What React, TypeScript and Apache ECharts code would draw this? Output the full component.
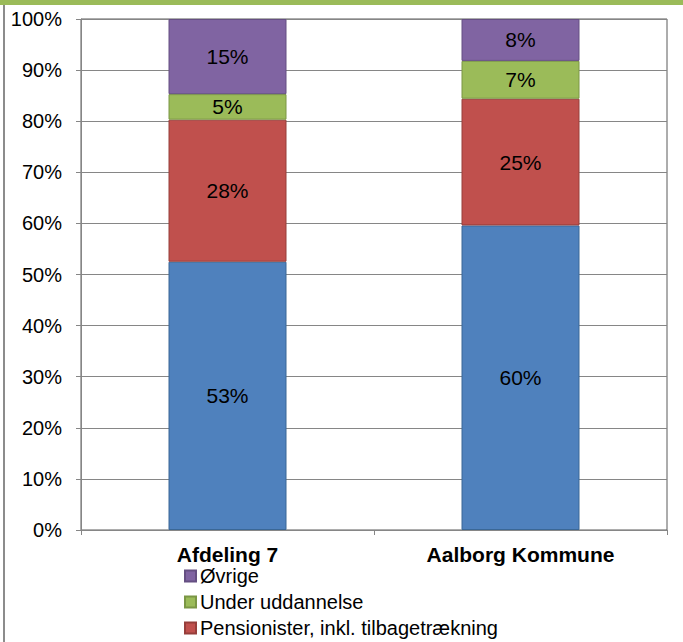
import React, { useEffect, useRef } from "react";
import * as echarts from "echarts";

const categories = ["Afdeling 7", "Aalborg Kommune"];
const blueName = "Beskæftigede";
const redName = "Pensionister, inkl. tilbagetrækning";
const greenName = "Under uddannelse";
const purpleName = "Øvrige";
const blueValues = [52.5, 59.6];
const redValues = [27.8, 24.8];
const greenValues = [5.0, 7.4];
const purpleValues = [14.7, 8.2];
const legendNames = [purpleName, greenName, redName];

const FONT = "'Liberation Sans', Arial, sans-serif";

export default function App() {
  const ref = useRef<HTMLDivElement>(null);
  useEffect(() => {
    if (!ref.current) return;
    const chart = echarts.init(ref.current, undefined, { renderer: "svg" });
    const mk = (name: string, data: number[], color: string, border: string) => ({
      name,
      type: "bar",
      stack: "total",
      data,
      barWidth: 118,
      itemStyle: { color, borderColor: border, borderWidth: 1 },
      label: {
        show: true,
        position: "inside",
        color: "#000",
        fontSize: 21,
        fontFamily: FONT,
        formatter: (p: any) => Math.round(p.value) + "%",
      },
    });
    chart.setOption({
      animation: false,
      textStyle: { fontFamily: FONT },
      grid: {
        left: 81,
        right: 16,
        top: 19,
        bottom: 112,
        show: true,
        borderColor: "#5a5a5a",
        borderWidth: 1,
      },
      graphic: [
        { type: "rect", shape: { x: 0, y: 0, width: 683, height: 5 }, style: { fill: "#9bbb59" } },
        { type: "line", shape: { x1: 4, y1: 5, x2: 4, y2: 642 }, style: { stroke: "#8c8c8c", lineWidth: 2 } },
      ],
      legend: {
        data: legendNames,
        orient: "vertical",
        left: 184,
        top: 566,
        itemWidth: 11,
        itemHeight: 11,
        itemGap: 6,
        icon: "rect",
        textStyle: { fontSize: 20, color: "#000", fontFamily: FONT, padding: [0, 0, 0, -1] },
        padding: 0,
      },
      xAxis: {
        type: "category",
        data: categories,
        axisLine: { show: true, lineStyle: { color: "#868686" } },
        axisTick: { show: true, length: 5, lineStyle: { color: "#868686" } },
        axisLabel: { fontSize: 21, fontWeight: "bold", color: "#000", margin: 14, fontFamily: FONT },
      },
      yAxis: {
        type: "value",
        min: 0,
        max: 100,
        interval: 10,
        axisLine: { show: true, lineStyle: { color: "#868686" } },
        axisTick: { show: true, length: 5, lineStyle: { color: "#868686" } },
        axisLabel: { fontSize: 20, color: "#000", margin: 19, formatter: "{value}%", fontFamily: FONT },
        splitLine: { show: true, lineStyle: { color: "#868686" } },
      },
      series: [
        mk(blueName, blueValues, "#4f81bd", "#3a6796"),
        mk(redName, redValues, "#c0504d", "#963e3b"),
        mk(greenName, greenValues, "#9bbb59", "#7a9645"),
        mk(purpleName, purpleValues, "#8064a2", "#654f82"),
      ],
    });
    return () => chart.dispose();
  }, []);
  return (
    <div
      ref={ref}
      style={{ position: "absolute", left: 0, top: 0, width: 683, height: 642, background: "#fff" }}
    />
  );
}
